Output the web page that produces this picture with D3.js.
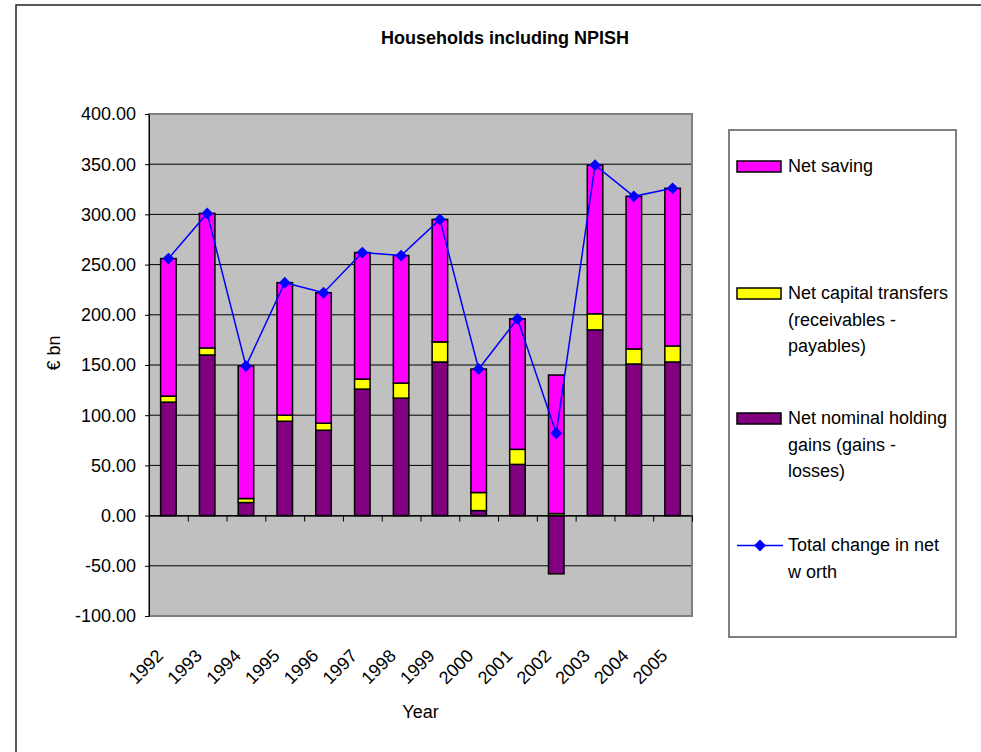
<!DOCTYPE html>
<html>
<head>
<meta charset="utf-8">
<script src="https://cdn.jsdelivr.net/npm/d3@7"></script>
<style>
  html, body { margin: 0; padding: 0; background: #fff; }
  svg { display: block; font-family: "Liberation Sans", Arial, sans-serif; }
</style>
</head>
<body>
<svg id="chart" width="981" height="752"></svg>
<script>
// Households including NPISH: components of the change in net worth, € bn
const years = ["1992","1993","1994","1995","1996","1997","1998","1999","2000","2001","2002","2003","2004","2005"];
const holdingGains     = [113, 160, 13, 94, 85, 126, 117, 153, 5, 51, -58, 185, 151, 153];
const capitalTransfers = [6, 7, 4, 6, 7, 10, 15, 20, 18, 15, 2, 16, 15, 16];
const netSaving        = [137, 134, 132, 132, 130, 126, 127, 122, 123, 130, 138, 148, 152, 157];
const totalChange      = [256, 301, 149, 232, 222, 262, 259, 295, 146, 196, 82, 349, 318, 326];
const yTicks = [-100, -50, 0, 50, 100, 150, 200, 250, 300, 350, 400];

const seriesKeys = ["holding", "transfers", "saving"];
const seriesColor = { saving: "#FF00FF", transfers: "#FFFF00", holding: "#800080" };
const legendItems = [
  { key: "saving", lines: ["Net saving"] },
  { key: "transfers", lines: ["Net capital transfers", "(receivables -", "payables)"] },
  { key: "holding", lines: ["Net nominal holding", "gains (gains -", "losses)"] },
  { key: "total", lines: ["Total change in net", "w orth"] }
];

const rows = years.map((y, i) => ({
  year: y, holding: holdingGains[i], transfers: capitalTransfers[i], saving: netSaving[i], total: totalChange[i]
}));

const svg = d3.select("#chart");
const plot = { left: 149, top: 114, right: 692, bottom: 616 };

// Outer chart frame
svg.append("rect")
  .attr("x", 16).attr("y", 5).attr("width", 1000).attr("height", 800)
  .attr("fill", "#fff").attr("stroke", "#222").attr("stroke-width", 1.5);

const x = d3.scaleBand().domain(years).range([plot.left, plot.right]).padding(0);
const barW = x.bandwidth() * 0.4;
const y = d3.scaleLinear().domain([-100, 400]).range([plot.bottom, plot.top]);

// Plot background
svg.append("rect")
  .attr("x", plot.left).attr("y", plot.top)
  .attr("width", plot.right - plot.left).attr("height", plot.bottom - plot.top)
  .attr("fill", "#C0C0C0");

// Gridlines
svg.append("g").selectAll("line")
  .data(yTicks.filter(v => v > -100 && v < 400))
  .join("line")
  .attr("x1", plot.left).attr("x2", plot.right)
  .attr("y1", d => y(d)).attr("y2", d => y(d))
  .attr("stroke", "#000").attr("stroke-width", 1);

// Plot border
svg.append("rect")
  .attr("x", plot.left).attr("y", plot.top)
  .attr("width", plot.right - plot.left).attr("height", plot.bottom - plot.top)
  .attr("fill", "none").attr("stroke", "#808080").attr("stroke-width", 2);

// Stacked bars
const stacked = d3.stack().keys(seriesKeys).offset(d3.stackOffsetDiverging)(rows);
svg.append("g").selectAll("g")
  .data(stacked)
  .join("g")
  .attr("fill", d => seriesColor[d.key])
  .selectAll("rect")
  .data(d => d)
  .join("rect")
  .attr("x", d => x(d.data.year) + (x.bandwidth() - barW) / 2)
  .attr("width", barW)
  .attr("y", d => y(Math.max(d[0], d[1])))
  .attr("height", d => Math.abs(y(d[0]) - y(d[1])))
  .attr("stroke", "#000").attr("stroke-width", 1.5);

// Category axis along zero, ticks between categories
const xTick = d3.scaleLinear().domain([0, years.length]).range([plot.left, plot.right]);
const xAxisZero = svg.append("g")
  .attr("transform", `translate(0,${y(0)})`)
  .call(d3.axisBottom(xTick).tickValues(d3.range(years.length + 1)).tickFormat("").tickSize(6).tickSizeOuter(0));
xAxisZero.selectAll("path, line").attr("stroke", "#000").attr("stroke-width", 1);

// Category labels below the plot
const xLab = svg.append("g")
  .attr("transform", `translate(0,${plot.bottom})`)
  .call(d3.axisBottom(x).tickSize(0));
xLab.select(".domain").remove();
xLab.selectAll("text")
  .attr("x", null).attr("y", null).attr("dy", null)
  .attr("text-anchor", "end")
  .attr("transform", "translate(-4,41) rotate(-45)")
  .attr("font-size", 18).attr("font-family", "Liberation Sans, Arial, sans-serif")
  .attr("fill", "#000");

// Value axis
const yAxis = svg.append("g")
  .attr("transform", `translate(${plot.left},0)`)
  .call(d3.axisLeft(y).tickValues(yTicks).tickFormat(d => d.toFixed(2)).tickSize(4).tickSizeOuter(0).tickPadding(9));
yAxis.selectAll("path, line").attr("stroke", "#000").attr("stroke-width", 1);
yAxis.selectAll("text")
  .attr("font-size", 18).attr("font-family", "Liberation Sans, Arial, sans-serif")
  .attr("fill", "#000").attr("dy", "0.33em");

// Total change in net worth line
const lineGen = d3.line().x(d => x(d.year) + x.bandwidth() / 2).y(d => y(d.total));
svg.append("path")
  .datum(rows)
  .attr("d", lineGen)
  .attr("fill", "none").attr("stroke", "#0000FF").attr("stroke-width", 1.5);
const diamond = d3.symbol().type(d3.symbolSquare).size(70);
svg.append("g").selectAll("path")
  .data(rows)
  .join("path")
  .attr("d", diamond)
  .attr("transform", d => `translate(${x(d.year) + x.bandwidth() / 2},${y(d.total)}) rotate(45)`)
  .attr("fill", "#0000FF");

// Titles
svg.append("text")
  .attr("x", 505).attr("y", 44)
  .attr("text-anchor", "middle").attr("font-size", 18).attr("font-weight", "bold")
  .text("Households including NPISH");
svg.append("text")
  .attr("x", (plot.left + plot.right) / 2).attr("y", 718)
  .attr("text-anchor", "middle").attr("font-size", 18)
  .text("Year");
svg.append("text")
  .attr("transform", "translate(60,353) rotate(-90)")
  .attr("text-anchor", "middle").attr("font-size", 18)
  .text("€ bn");

// Legend
const legend = svg.append("g");
legend.append("rect")
  .attr("x", 729).attr("y", 130).attr("width", 227).attr("height", 507)
  .attr("fill", "#fff").attr("stroke", "#808080").attr("stroke-width", 2);
const legendBaselines = [172, 299, 424, 551];
const lineStep = 26.7;
legendItems.forEach((item, i) => {
  const base = legendBaselines[i];
  const cy = base - 5.5;
  if (item.key === "total") {
    legend.append("line")
      .attr("x1", 737).attr("x2", 783).attr("y1", cy).attr("y2", cy)
      .attr("stroke", "#0000FF").attr("stroke-width", 1.5);
    legend.append("path")
      .attr("d", diamond)
      .attr("transform", `translate(760,${cy}) rotate(45)`)
      .attr("fill", "#0000FF");
  } else {
    legend.append("rect")
      .attr("x", 737).attr("y", cy - 5.5).attr("width", 44).attr("height", 11)
      .attr("fill", seriesColor[item.key]).attr("stroke", "#000").attr("stroke-width", 1.5);
  }
  const t = legend.append("text").attr("x", 788).attr("y", base).attr("font-size", 18);
  item.lines.forEach((ln, j) => {
    t.append("tspan").attr("x", 788).attr("y", base + j * lineStep).text(ln);
  });
});
</script>
</body>
</html>
